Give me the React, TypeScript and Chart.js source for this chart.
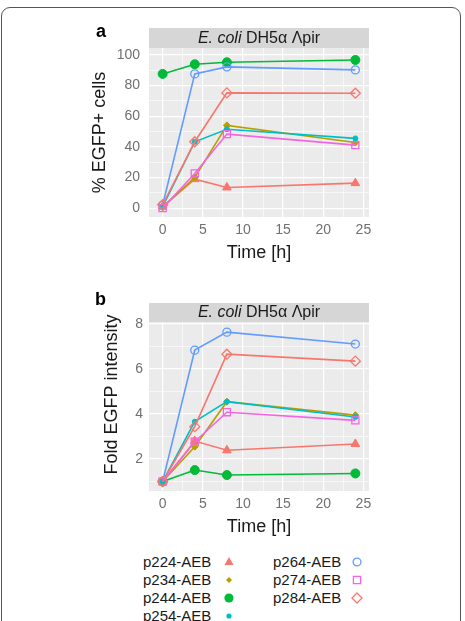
import React, { useEffect, useRef } from 'react';
import { Chart, registerables } from 'chart.js';

Chart.register(...registerables);

// ---------- data ----------
const times = [0, 4, 8, 24];
const seriesNames = ['p224-AEB', 'p234-AEB', 'p244-AEB', 'p254-AEB', 'p264-AEB', 'p274-AEB', 'p284-AEB'];

// panel a: % EGFP+ cells
const pctP224 = [1, 18.9, 13.5, 16.3];
const pctP234 = [0.5, 20, 54, 42.8];
const pctP244 = [87.6, 93.9, 95.2, 96.7];
const pctP254 = [1, 43.3, 51.5, 45.5];
const pctP264 = [2, 87.6, 92.2, 90.2];
const pctP274 = [0, 22.6, 48.3, 41.1];
const pctP284 = [2.2, 43.3, 75.2, 75];

// panel b: fold EGFP intensity
const foldP224 = [1, 2.8, 2.39, 2.67];
const foldP234 = [1, 2.55, 4.55, 3.95];
const foldP244 = [1, 1.51, 1.29, 1.36];
const foldP254 = [1, 3.66, 4.55, 3.87];
const foldP264 = [1, 6.84, 7.64, 7.11];
const foldP274 = [1, 2.77, 4.08, 3.72];
const foldP284 = [1, 3.44, 6.66, 6.35];

const xTickLabels = [0, 5, 10, 15, 20, 25];
const yTickLabelsA = [0, 20, 40, 60, 80, 100];
const yTickLabelsB = [2, 4, 6, 8];

const stripItalic = 'E. coli';
const stripRest = ' DH5α Λpir';

// ---------- styles ----------
const RED = '#F8766D';
const OLIVE = '#B79F00';
const GREEN = '#00BA38';
const TEAL = '#00BFC4';
const BLUE = '#619CFF';
const MAGENTA = '#F564E3';

const seriesStyles = [
  { color: RED, pointStyle: 'triangle', radius: 5, filled: true },
  { color: OLIVE, pointStyle: 'rectRot', radius: 3.5, filled: true },
  { color: GREEN, pointStyle: 'circle', radius: 4.5, filled: true },
  { color: TEAL, pointStyle: 'circle', radius: 2.5, filled: true },
  { color: BLUE, pointStyle: 'circle', radius: 4, filled: false },
  { color: MAGENTA, pointStyle: 'rect', radius: 5, filled: false },
  { color: RED, pointStyle: 'rectRot', radius: 5, filled: false },
];

const FONT = "'Liberation Sans', Arial, Helvetica, sans-serif";
const TICK_COLOR = '#707070';
const TEXT_COLOR = '#1a1a1a';

const panelDecor = {
  id: 'panelDecor',
  beforeDraw(chart: any, _args: any, _opts: any) {
    const { ctx, chartArea } = chart;
    ctx.save();
    ctx.fillStyle = '#EBEBEB';
    ctx.fillRect(chartArea.left, chartArea.top, chartArea.right - chartArea.left, chartArea.bottom - chartArea.top);
    ctx.restore();
  },
  afterDraw(chart: any, _args: any, opts: any) {
    const { ctx, chartArea } = chart;
    const h = opts.stripHeight;
    ctx.save();
    ctx.fillStyle = '#D6D6D6';
    ctx.fillRect(chartArea.left, chartArea.top - h, chartArea.right - chartArea.left, h);
    const italicFont = `italic 16px ${FONT}`;
    const normalFont = `16px ${FONT}`;
    ctx.font = italicFont;
    const w1 = ctx.measureText(stripItalic).width;
    ctx.font = normalFont;
    const w2 = ctx.measureText(stripRest).width;
    const cx = (chartArea.left + chartArea.right) / 2;
    const x0 = cx - (w1 + w2) / 2;
    const cy = chartArea.top - h / 2 + 0.5;
    ctx.fillStyle = TEXT_COLOR;
    ctx.textBaseline = 'middle';
    ctx.textAlign = 'left';
    ctx.font = italicFont;
    ctx.fillText(stripItalic, x0, cy);
    ctx.font = normalFont;
    ctx.fillText(stripRest, x0 + w1, cy);
    // panel letter
    ctx.font = `bold 18px ${FONT}`;
    ctx.textBaseline = 'alphabetic';
    ctx.fillStyle = '#000';
    ctx.fillText(opts.letter, opts.letterX, opts.letterY);
    // custom-placed y axis title
    if (opts.yTitle) {
      ctx.translate(opts.yTitleX, (chartArea.top + chartArea.bottom) / 2 + opts.yTitleShift);
      ctx.rotate(-Math.PI / 2);
      ctx.font = `18px ${FONT}`;
      ctx.fillStyle = TEXT_COLOR;
      ctx.textAlign = 'center';
      ctx.textBaseline = 'middle';
      ctx.fillText(opts.yTitle, 0, 0);
    }
    ctx.restore();
  },
};

function buildDatasets(values: number[][]) {
  return values.map((vals, i) => {
    const s = seriesStyles[i];
    return {
      label: seriesNames[i],
      data: times.map((t, j) => ({ x: t, y: vals[j] })),
      borderColor: s.color,
      backgroundColor: s.color,
      borderWidth: 1.6,
      tension: 0,
      pointStyle: s.pointStyle,
      pointRadius: s.radius,
      pointBackgroundColor: s.filled ? s.color : 'rgba(0,0,0,0)',
      pointBorderColor: s.color,
      pointBorderWidth: s.filled ? 1 : 1.3,
      order: values.length - 1 - i,
    };
  });
}

interface PanelCfg {
  values: number[][];
  yMin: number;
  yMax: number;
  yStep: number;
  yLabels: number[];
  yTitle: string;
  yTitlePad: number;
  yTitleCustom: boolean;
  yTitleX: number;
  yTitleShift: number;
  yTickPad: number;
  xAxisHeight: number;
  xTitlePad: number;
  topPad: number;
  stripHeight: number;
  letter: string;
  letterX: number;
  letterY: number;
}

function makeChart(canvas: HTMLCanvasElement, cfg: PanelCfg) {
  return new Chart(canvas, {
    type: 'line',
    data: { datasets: buildDatasets(cfg.values) as any },
    options: {
      responsive: false,
      animation: false,
      devicePixelRatio: 1,
      layout: { padding: { left: 0, top: cfg.topPad, right: 96, bottom: 0 } },
      plugins: {
        legend: { display: false },
        tooltip: { enabled: false },
        panelDecor: {
          stripHeight: cfg.stripHeight,
          letter: cfg.letter,
          letterX: cfg.letterX,
          letterY: cfg.letterY,
          yTitle: cfg.yTitleCustom ? cfg.yTitle : '',
          yTitleX: cfg.yTitleX,
          yTitleShift: cfg.yTitleShift,
        },
      } as any,
      scales: {
        x: {
          type: 'linear',
          min: -1.7,
          max: 25.7,
          afterFit: (s: any) => {
            s.height = cfg.xAxisHeight;
          },
          ticks: {
            stepSize: 2.5,
            includeBounds: false,
            autoSkip: false,
            maxRotation: 0,
            padding: 5,
            color: TICK_COLOR,
            font: { family: FONT, size: 14 },
            callback: (v: any) => (xTickLabels.includes(Number(v)) ? String(v) : ''),
          },
          grid: {
            color: '#FFFFFF',
            drawTicks: false,
            lineWidth: (c: any) => (c.tick && xTickLabels.includes(c.tick.value) ? 1.2 : 0.6),
          },
          border: { display: false },
          title: {
            display: true,
            text: 'Time [h]',
            color: TEXT_COLOR,
            font: { family: FONT, size: 18 },
            padding: { top: 0, bottom: cfg.xTitlePad },
          },
        },
        y: {
          type: 'linear',
          min: cfg.yMin,
          max: cfg.yMax,
          afterFit: (s: any) => {
            s.width = 149;
          },
          ticks: {
            stepSize: cfg.yStep,
            includeBounds: false,
            autoSkip: false,
            padding: cfg.yTickPad,
            color: TICK_COLOR,
            font: { family: FONT, size: 14 },
            callback: (v: any) => (cfg.yLabels.includes(Number(v)) ? String(v) : ''),
          },
          grid: {
            color: '#FFFFFF',
            drawTicks: false,
            lineWidth: (c: any) => (c.tick && cfg.yLabels.includes(c.tick.value) ? 1.2 : 0.6),
          },
          border: { display: false },
          title: {
            display: !cfg.yTitleCustom,
            text: cfg.yTitle,
            color: TEXT_COLOR,
            font: { family: FONT, size: 18 },
            padding: { top: cfg.yTitlePad, bottom: 0 },
          },
        },
      },
    },
    plugins: [panelDecor],
  });
}

const legendCols = [
  { textX: 143, markX: 229, items: [0, 1, 2, 3] },
  { textX: 273, markX: 357, items: [4, 5, 6] },
];
const legendRowY = [562, 580, 598, 616];

function Marker({ idx }: { idx: number }) {
  const s = seriesStyles[idx];
  const c = s.color;
  let shape: any = null;
  if (idx === 0) shape = <polygon points="7,2 11.5,10 2.5,10" fill={c} />;
  else if (idx === 1) shape = <polygon points="7,4 10,7 7,10 4,7" fill={c} />;
  else if (idx === 2) shape = <circle cx="7" cy="7" r="4.6" fill={c} />;
  else if (idx === 3) shape = <circle cx="7" cy="7" r="2.6" fill={c} />;
  else if (idx === 4) shape = <circle cx="7" cy="7" r="3.9" fill="none" stroke={c} strokeWidth="1.3" />;
  else if (idx === 5) shape = <rect x="3.4" y="3.4" width="7.2" height="7.2" fill="none" stroke={c} strokeWidth="1.3" />;
  else shape = <polygon points="7,2 12,7 7,12 2,7" fill="none" stroke={c} strokeWidth="1.3" />;
  return (
    <svg width="14" height="14" viewBox="0 0 14 14" style={{ display: 'block' }}>
      {shape}
    </svg>
  );
}

export default function App() {
  const refA = useRef<HTMLCanvasElement | null>(null);
  const refB = useRef<HTMLCanvasElement | null>(null);

  useEffect(() => {
    const a = makeChart(refA.current!, {
      values: [pctP224, pctP234, pctP244, pctP254, pctP264, pctP274, pctP284],
      yMin: -5.8,
      yMax: 104.5,
      yStep: 10,
      yLabels: yTickLabelsA,
      yTitle: '% EGFP+ cells',
      yTitlePad: 89,
      yTitleCustom: false,
      yTitleX: 100,
      yTitleShift: 0,
      yTickPad: 9,
      xAxisHeight: 53,
      xTitlePad: 6,
      topPad: 48,
      stripHeight: 20,
      letter: 'a',
      letterX: 96,
      letterY: 37,
    });
    const b = makeChart(refB.current!, {
      values: [foldP224, foldP234, foldP244, foldP254, foldP264, foldP274, foldP284],
      yMin: 0.58,
      yMax: 8.09,
      yStep: 1,
      yLabels: yTickLabelsB,
      yTitle: 'Fold EGFP intensity',
      yTitlePad: 101,
      yTitleCustom: true,
      yTitleX: 112,
      yTitleShift: -12,
      yTickPad: 6,
      xAxisHeight: 59,
      xTitlePad: 12,
      topPad: 52,
      stripHeight: 19,
      letter: 'b',
      letterX: 95,
      letterY: 35,
    });
    return () => {
      a.destroy();
      b.destroy();
    };
  }, []);

  return (
    <div
      style={{
        position: 'absolute',
        left: 0,
        top: 0,
        width: 465,
        height: 621,
        overflow: 'hidden',
        background: '#fff',
        fontFamily: FONT,
      }}
    >
      <div
        style={{
          position: 'absolute',
          left: 1,
          top: 7,
          width: 460,
          height: 640,
          border: '1px solid #555',
          borderRadius: '9px 9px 0 0',
          boxSizing: 'border-box',
        }}
      />
      <canvas ref={refA} width={465} height={270} style={{ position: 'absolute', left: 0, top: 0, width: 465, height: 270 }} />
      <canvas ref={refB} width={465} height={280} style={{ position: 'absolute', left: 0, top: 270, width: 465, height: 280 }} />
      {legendCols.map((col, ci) =>
        col.items.map((idx, ri) => (
          <React.Fragment key={`${ci}-${ri}`}>
            <div
              style={{
                position: 'absolute',
                left: col.textX,
                top: legendRowY[ri] - 9,
                height: 18,
                lineHeight: '18px',
                fontSize: 15,
                color: TEXT_COLOR,
                whiteSpace: 'nowrap',
              }}
            >
              {seriesNames[idx]}
            </div>
            <div style={{ position: 'absolute', left: col.markX - 7, top: legendRowY[ri] - 7 }}>
              <Marker idx={idx} />
            </div>
          </React.Fragment>
        ))
      )}
    </div>
  );
}
